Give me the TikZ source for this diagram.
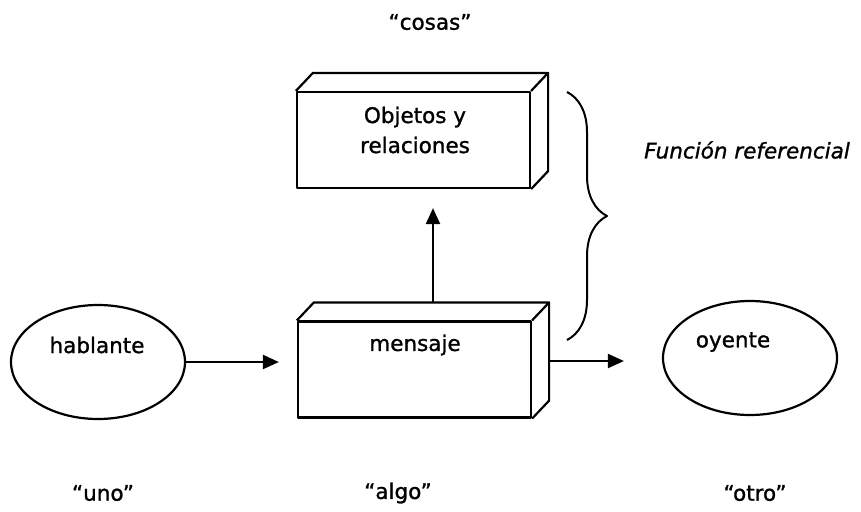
\documentclass[tikz,border=0pt]{standalone}
\usepackage{fontspec}
\setmainfont{DejaVu Sans}[RawFeature={embolden=1.2}]
\usetikzlibrary{shapes.geometric,arrows.meta,decorations.pathreplacing}
\begin{document}
\begin{tikzpicture}[x=1pt,y=-1pt,
  every node/.style={font=\fontsize{21.5}{30}\selectfont},
  line/.style={line width=2.2pt,line join=round},
  face/.style={line, draw, rectangle, minimum width=233pt, minimum height=96pt, inner sep=0pt},
  oval/.style={line, draw, ellipse, minimum width=174pt, minimum height=114pt, inner sep=0pt},
  txt/.style={inner sep=0pt, align=center},
  arr/.style={line, -{Triangle[length=16pt,width=14pt]}}]
\useasboundingbox (0,0) rectangle (861,511);
% boxes (front faces)
\node[face] (obj) at (413.5,140) {};
\node[face] (msg) at (414.5,369.5) {};
% 3D top and side faces
\foreach \b in {obj,msg}{
  \draw[line] (\b.north west) -- ++(17,-18) -- ([shift={(17,-18)}]\b.north east) -- (\b.north east);
  \draw[line] ([shift={(17,-18)}]\b.north east) -- ([shift={(17,-18)}]\b.south east) -- (\b.south east);
}
\node[txt] (objt) at (415,130) {Objetos y\\relaciones};
\node[txt] (msgt) at (415,345) {mensaje};
% ellipses
\node[oval] (hab) at (98,362) {};
\node[oval] (oye) at (750,358) {};
\node[txt] (habt) at (97,345) {hablante};
\node[txt] (oyet) at (733,342) {oyente};
% arrows
\draw[arr, shorten >=18pt] (hab.east) -- (hab.east -| msg.west);
\coordinate (m2o) at ([shift={(17,-8.5)}]msg.east);
\draw[arr, shorten >=38pt] (m2o) -- (m2o -| oye.west);
\coordinate (vup) at ([shift={(18.5,-18)}]msg.north);
\draw[arr, shorten >=19pt] (vup) -- (vup |- obj.south);
% brace
\coordinate (bt) at (567,92);
\coordinate (bb) at (567,340);
\draw[line, line width=2pt, decorate, decoration={brace, amplitude=40pt}] (bt) -- (bb);
\node[txt, font=\fontsize{21.5}{30}\selectfont\itshape] (fref) at (747,150) {Función referencial};
% labels
\node[txt] (cosas) at (430,22) {“cosas”};
\node[txt] (uno) at (103,493) {“uno”};
\node[txt] (algo) at (398,493) {“algo”};
\node[txt] (otro) at (755,493) {“otro”};
\end{tikzpicture}
\end{document}
